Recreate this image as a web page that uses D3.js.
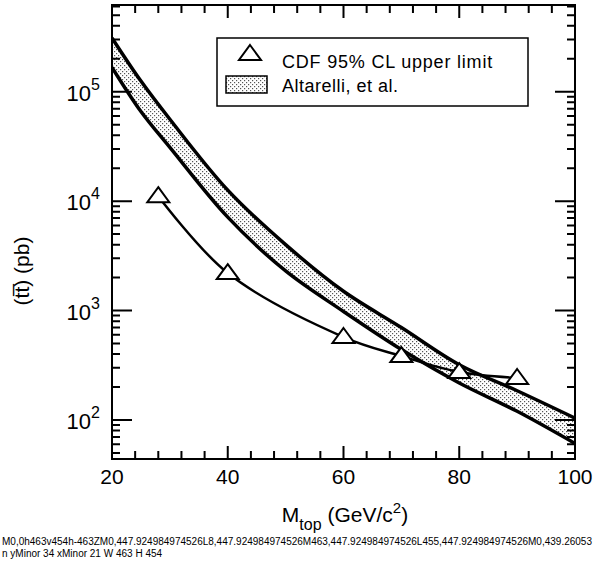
<!DOCTYPE html>
<html>
<head>
<meta charset="utf-8">
<script src="https://cdn.jsdelivr.net/npm/d3@7"></script>
<style>
  body { margin: 0; background: #fff; }
  svg { font-family: "Liberation Sans", Arial, sans-serif; }
</style>
</head>
<body>
<div id="chart"></div>
<script>
// Altarelli et al. band (pb)
const bandMass = [20, 25, 30, 40, 50, 60, 70, 80, 90, 100];
const bandUpper = [310000, 125000, 56000, 12600, 4000, 1500, 700, 320, 185, 104];
const bandLower = [167000, 66000, 31000, 7140, 2300, 980, 440, 218, 120, 61];

// CDF 95% CL upper limit points
const cdfMass = [28, 40, 60, 70, 80, 90];
const cdfLimit = [11100, 2200, 573, 384, 274, 242];

const xMajor = [20, 40, 60, 80, 100];
const yDecades = [2, 3, 4, 5];

const width = 599, height = 563;
const margin = { left: 112, top: 5, right: 24, bottom: 104 };
const W = width - margin.left - margin.right;
const H = height - margin.top - margin.bottom;

const svg = d3.select("#chart").append("svg")
  .attr("width", width)
  .attr("height", height);

const x = d3.scaleLinear().domain([20, 100]).range([0, W]);
const y = d3.scaleLog().domain([44, 620000]).range([H, 0]);

// stipple pattern for the band
const defs = svg.append("defs");
const pat = defs.append("pattern")
  .attr("id", "dots")
  .attr("width", 4).attr("height", 4)
  .attr("patternUnits", "userSpaceOnUse");
pat.append("rect").attr("width", 4).attr("height", 4).attr("fill", "#fff");
pat.append("rect").attr("x", 0).attr("y", 0).attr("width", 1.2).attr("height", 1.2).attr("fill", "#555");
pat.append("rect").attr("x", 2).attr("y", 2).attr("width", 1.2).attr("height", 1.2).attr("fill", "#555");

defs.append("clipPath").attr("id", "clip")
  .append("rect").attr("width", W).attr("height", H);

const g = svg.append("g").attr("transform", `translate(${margin.left},${margin.top})`);

// x tick labels
g.append("g").selectAll("text")
  .data(xMajor)
  .join("text")
  .attr("x", d => x(d))
  .attr("y", H + 25)
  .attr("text-anchor", "middle")
  .attr("font-size", 21)
  .text(d3.format("d"));

// y labels 10^n
yDecades.forEach(d => {
  const t = g.append("text")
    .attr("x", -12)
    .attr("y", y(Math.pow(10, d)) + 9)
    .attr("text-anchor", "end")
    .attr("font-size", 22);
  t.append("tspan").text("10");
  t.append("tspan").attr("dy", -11).attr("font-size", 16).text(d);
});

// band
const plot = g.append("g").attr("clip-path", "url(#clip)");
const bandData = bandMass.map((m, i) => ({ m, lo: bandLower[i], hi: bandUpper[i] }));

plot.append("path")
  .datum(bandData)
  .attr("fill", "url(#dots)")
  .attr("d", d3.area().curve(d3.curveCatmullRom)
    .x(d => x(d.m)).y0(d => y(d.lo)).y1(d => y(d.hi)));

["lo", "hi"].forEach(k => {
  plot.append("path")
    .datum(bandData)
    .attr("fill", "none")
    .attr("stroke", "#000")
    .attr("stroke-width", 3.5)
    .attr("d", d3.line().curve(d3.curveCatmullRom).x(d => x(d.m)).y(d => y(d[k])));
});

// CDF limit curve and triangles
const cdf = cdfMass.map((m, i) => ({ m, v: cdfLimit[i] }));
plot.append("path")
  .datum(cdf)
  .attr("fill", "none")
  .attr("stroke", "#000")
  .attr("stroke-width", 2.5)
  .attr("d", d3.line().curve(d3.curveCatmullRom).x(d => x(d.m)).y(d => y(d.v)));

const tri = "M0,-9L11,6L-11,6Z";
plot.selectAll(".tri")
  .data(cdf)
  .join("path")
  .attr("class", "tri")
  .attr("d", tri)
  .attr("transform", d => `translate(${x(d.m)},${y(d.v)})`)
  .attr("fill", "#fff")
  .attr("stroke", "#000")
  .attr("stroke-width", 2);

// tick values
const yMinor = [];
[1, 2, 3, 4, 5].forEach(d => {
  for (let k = 2; k <= 9; k++) {
    const v = k * Math.pow(10, d);
    if (v > 44 && v < 620000) yMinor.push(v);
  }
});
const yMajorVals = yDecades.map(d => Math.pow(10, d));
const xMinor = d3.range(20, 101, 4);

// frame and inward ticks on all four sides, as one path
const fp = d3.path();
fp.rect(0, 0, W, H);
function yTicks(vals, len) {
  vals.forEach(v => {
    fp.moveTo(0, y(v)); fp.lineTo(len, y(v));
    fp.moveTo(W, y(v)); fp.lineTo(W - len, y(v));
  });
}
function xTicks(vals, len) {
  vals.forEach(v => {
    fp.moveTo(x(v), H); fp.lineTo(x(v), H - len);
    fp.moveTo(x(v), 0); fp.lineTo(x(v), len);
  });
}
yTicks(yMinor, 8);
yTicks(yMajorVals, 20);
xTicks(xMinor, 8);
xTicks(xMajor, 13);

g.append("path")
  .attr("d", fp.toString())
  .attr("fill", "none")
  .attr("stroke", "#000")
  .attr("stroke-width", 2);

// debug: print the start of the tick path
svg.append("text").attr("x", 2).attr("y", 545).attr("font-size", 10)
  .text(fp.toString().slice(0, 110));
svg.append("text").attr("x", 2).attr("y", 557).attr("font-size", 10)
  .text("n yMinor " + yMinor.length + " xMinor " + xMinor.length + " W " + W + " H " + H);

// legend
const lg = svg.append("g");
lg.append("rect")
  .attr("x", 217).attr("y", 38).attr("width", 311).attr("height", 68)
  .attr("fill", "#fff").attr("stroke", "#000").attr("stroke-width", 1.5);
lg.append("path").attr("d", tri).attr("transform", "translate(250,54)")
  .attr("fill", "#fff").attr("stroke", "#000").attr("stroke-width", 2);
lg.append("rect")
  .attr("x", 226).attr("y", 76).attr("width", 41).attr("height", 17)
  .attr("fill", "url(#dots)").attr("stroke", "#000").attr("stroke-width", 1.5);
lg.append("text").attr("x", 282).attr("y", 68).attr("font-size", 18)
  .attr("letter-spacing", 0.8).text("CDF 95% CL upper limit");
lg.append("text").attr("x", 282).attr("y", 92).attr("font-size", 18)
  .attr("letter-spacing", 0.5).text("Altarelli, et al.");

// axis titles
const xt = svg.append("text")
  .attr("x", 345).attr("y", 522)
  .attr("text-anchor", "middle")
  .attr("font-size", 21);
xt.append("tspan").text("M");
xt.append("tspan").attr("dy", 8).attr("font-size", 16).text("top");
xt.append("tspan").attr("dy", -8).text(" (GeV/c");
xt.append("tspan").attr("dy", -9).attr("font-size", 15).text("2");
xt.append("tspan").attr("dy", 9).text(")");

svg.append("text")
  .attr("transform", "translate(29,271) rotate(-90)")
  .attr("text-anchor", "middle")
  .attr("font-size", 21)
  .text("(tt\u0305) (pb)");
</script>
</body>
</html>
